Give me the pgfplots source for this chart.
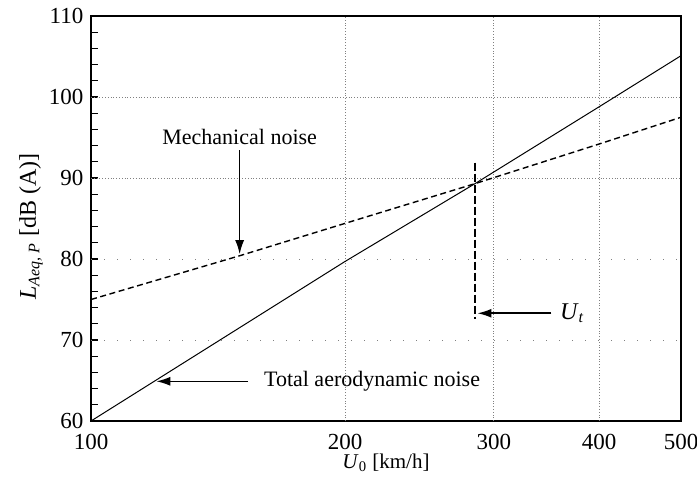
\documentclass[border=0pt]{standalone}
\usepackage{fontspec}
\setmainfont{Liberation Serif}
\usepackage{pgfplots}
\pgfplotsset{compat=1.18}
\usetikzlibrary{arrows.meta}
\begin{document}
\fontsize{11}{13}\selectfont
\begin{tikzpicture}
\useasboundingbox (-45.5pt,-28.5pt) rectangle (303pt,210.5pt);
\begin{axis}[scale only axis,width=295pt,height=202.5pt,
  xmode=log,xmin=100,xmax=500,ymin=60,ymax=110,
  xtick={100,200,300,400,500},xticklabels={100,200,300,400,500},
  ytick={60,70,...,110},minor y tick num=4,
  ytick pos=left,xtick pos=bottom,tick align=inside,
  major tick length=3.5pt,minor tick length=3.5pt,
  x tick style={draw=none},
  tick style={black,line width=0.6pt},
  axis line style={line width=1pt},
  /pgf/number format/assume math mode=true,
  tick label style={font=\fontsize{11.5}{13}\selectfont},
  xticklabel style={yshift=-2.5pt},
  xlabel={\textit{U}\textsubscript{0} [km/h]},
  ylabel={\textit{L}\textsubscript{\textit{Aeq, P}} [dB (A)]},
  xlabel style={font=\fontsize{10.5}{12}\selectfont,at={(axis description cs:0.5,0)},anchor=center,yshift=-21pt},
  ylabel style={font=\fontsize{12}{14}\selectfont,at={(axis description cs:0,0.48)},anchor=center,yshift=30pt},
  clip=false]
% grid
\draw[gray,densely dotted,line width=0.4pt] (axis cs:200,60) -- (axis cs:200,110);
\draw[gray,densely dotted,line width=0.4pt] (axis cs:300,60) -- (axis cs:300,110);
\draw[gray,densely dotted,line width=0.4pt] (axis cs:400,60) -- (axis cs:400,110);
\draw[gray,densely dotted,line width=0.4pt] (axis cs:100,90) -- (axis cs:500,90);
\draw[gray,densely dotted,line width=0.4pt] (axis cs:100,100) -- (axis cs:500,100);
\draw[gray,dash pattern=on 0.5pt off 6pt,line width=0.4pt] (axis cs:100,80) -- (axis cs:500,80);
\draw[gray,dash pattern=on 0.5pt off 6pt,line width=0.4pt] (axis cs:100,70) -- (axis cs:500,70);
% total aerodynamic noise
\addplot[black,line width=0.5pt] coordinates {(100,60)(200,79.7)(285,89.3)(400,98.8)(500,105.1)};
% mechanical noise
\addplot[black,line width=0.7pt,dash pattern=on 3pt off 1.8pt] coordinates {(100,75)(150,80.4)(200,84.4)(285,89.3)(400,94.2)(500,97.5)};
% U_t marker
\addplot[black,line width=0.6pt,dash pattern=on 4pt off 1.5pt] coordinates {(285,91.9)(285,72.6)};
% annotations
\draw[-{Latex[length=7pt,width=4.5pt]},line width=0.7pt] (axis cs:150,93.4) -- (axis cs:150,80.6);
\node[anchor=south] at (axis cs:150,93.2) {Mechanical noise};
\draw[-{Latex[length=7pt,width=4.5pt]},line width=0.8pt] (axis cs:351,73.3) -- (axis cs:287,73.3);
\node[anchor=west,font=\fontsize{12}{14}\selectfont] at (axis cs:352,73.3) {\textit{U}\textsubscript{\textit{t}}};
\draw[-{Latex[length=7pt,width=4.5pt]},line width=0.7pt] (axis cs:153.5,64.9) -- (axis cs:119.5,64.9);
\node[anchor=west] at (axis cs:157,64.9) {Total aerodynamic noise};
\end{axis}
\end{tikzpicture}
\end{document}
